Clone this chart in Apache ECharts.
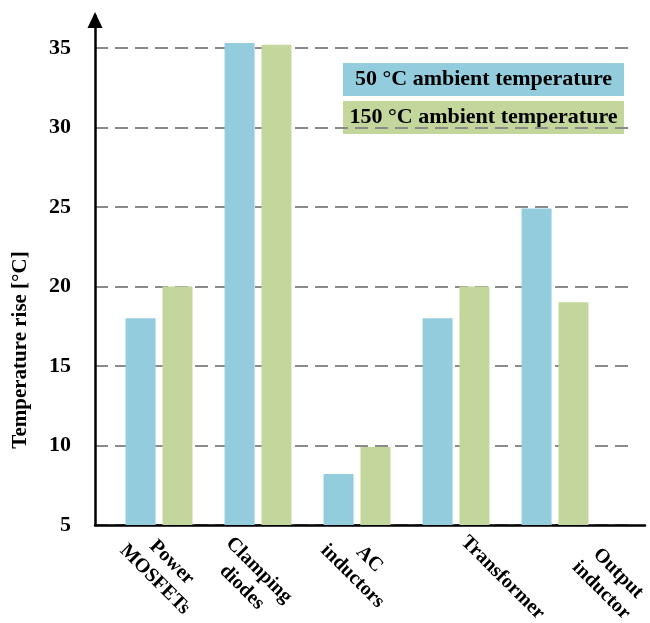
<!DOCTYPE html>
<html>
<head>
<meta charset="utf-8">
<title>Temperature rise of converter components</title>
<script src="https://cdn.jsdelivr.net/npm/echarts@6/dist/echarts.min.js"></script>
<style>
  html, body { margin: 0; padding: 0; background: #fff; }
  #chart { width: 650px; height: 623px; }
</style>
</head>
<body>
<div id="chart"></div>
<script>
// Components under test
const categories = ['Power\nMOSFETs', 'Clamping\ndiodes', 'AC\ninductors', 'Transformer', 'Output\ninductor'];
// Temperature rise [°C] for each ambient temperature
const seriesNames = ['50 \u00B0C ambient temperature', '150 \u00B0C ambient temperature'];
const rise50 = [18, 35.3, 8.2, 18, 24.9];
const rise150 = [20, 35.2, 9.9, 20, 19];
// Value-axis tick labels
const yTicks = [5, 10, 15, 20, 25, 30, 35];

// Category-label placement tweaks: horizontal nudge (category units) and extra drop (px)
const labelNudge = [-0.29, -0.38, -0.26, 0.08, 0.29];
const labelDrop = [1, 10, 1, 0, 17];

const FONT = 'Liberation Serif';
const BLUE = '#93CDDD';
const GREEN = '#C3D69B';
const BAND_PX = 99;   // pixel width of one category step on the bar axis

const chart = echarts.init(document.getElementById('chart'), null, { renderer: 'canvas' });

const toPairs = vals => vals.map((v, i) => [i, v]);

// A drop of s px for a -45° label = move right by s px and push the text
// block down by a spacer line of 2*sqrt(2)*s px in the rotated frame.
const labelPos = categories.map((c, i) => i + labelNudge[i] + labelDrop[i] / BAND_PX);
const labelRich = {
  c: { fontFamily: FONT, fontWeight: 'bold', fontSize: 20, color: '#000', align: 'center', lineHeight: 24 }
};
categories.forEach((c, i) => {
  labelRich['sp' + i] = { fontSize: 1, lineHeight: Math.round(labelDrop[i] * 2.83), height: Math.round(labelDrop[i] * 2.83) };
});

const hidden = {
  axisLine: { show: false }, axisTick: { show: false },
  axisLabel: { show: false }, splitLine: { show: false }
};

const option = {
  backgroundColor: '#fff',
  animation: false,
  grid: [
    // dashed reference lines and the value labels
    { left: 95, right: 21, top: 48, bottom: 98, outerBoundsMode: 'none', containLabel: false },
    // bars, black axis lines with the arrow, category labels
    { left: 95, right: 5, top: 16, bottom: 98, outerBoundsMode: 'none', containLabel: false }
  ],
  xAxis: [
    Object.assign({ type: 'value', gridIndex: 0, min: 0, max: 1 }, hidden),
    {
      type: 'value', gridIndex: 1,
      min: -0.6465, max: 4.909,
      axisLine: { show: true, onZero: false, lineStyle: { color: '#000', width: 2.5 } },
      axisTick: { show: false },
      splitLine: { show: false },
      axisLabel: {
        customValues: labelPos,
        rotate: -45,
        margin: 14,
        formatter: v => {
          const i = labelPos.findIndex(p => Math.abs(p - v) < 1e-6);
          if (i < 0) return '';
          const lines = categories[i].split('\n').map(s => '{c|' + s + '}');
          if (labelDrop[i] > 1) lines.unshift('{sp' + i + '|\u00a0}');
          return lines.join('\n');
        },
        rich: labelRich
      }
    }
  ],
  yAxis: [
    {
      type: 'value', gridIndex: 0,
      min: yTicks[0], max: yTicks[yTicks.length - 1], interval: 5,
      axisLine: { show: false },
      axisTick: { show: false },
      axisLabel: {
        margin: 24,
        fontFamily: FONT, fontWeight: 'bold', fontSize: 22, color: '#000'
      },
      splitLine: {
        show: true,
        lineStyle: { color: '#8a8a8a', width: 2, type: [13, 7] }
      }
    },
    {
      type: 'value', gridIndex: 1, min: 5, max: 37,
      axisLine: {
        show: true, onZero: false,
        lineStyle: { color: '#000', width: 2.5 },
        symbol: ['none', 'triangle'],
        symbolSize: [15, 16],
        symbolOffset: [0, -4]
      },
      axisTick: { show: false }, axisLabel: { show: false }, splitLine: { show: false }
    }
  ],
  legend: {
    orient: 'vertical',
    left: 338, top: 63,
    padding: 0,
    itemWidth: 0, itemHeight: 0, itemGap: 5,
    icon: 'rect',
    z: -1,
    selectedMode: false,
    data: seriesNames,
    formatter: name => (name === seriesNames[0] ? '{b|' : '{g|') + name + '}',
    textStyle: {
      rich: {
        b: { backgroundColor: BLUE, width: 281, height: 33, lineHeight: 33, align: 'center',
             fontFamily: FONT, fontWeight: 'bold', fontSize: 22, color: '#000' },
        g: { backgroundColor: GREEN, width: 281, height: 33, lineHeight: 33, align: 'center',
             fontFamily: FONT, fontWeight: 'bold', fontSize: 22, color: '#000' }
      }
    }
  },
  graphic: [
    {
      type: 'text',
      x: 21, y: 350,
      rotation: Math.PI / 2,
      style: {
        text: 'Temperature rise [\u00B0C]',
        fontFamily: FONT, fontWeight: 'bold', fontSize: 21, fill: '#000',
        align: 'center', verticalAlign: 'middle'
      }
    }
  ],
  series: [
    {
      name: seriesNames[0], type: 'bar', xAxisIndex: 1, yAxisIndex: 1,
      barWidth: 30, barGap: '23%',
      itemStyle: { color: BLUE },
      data: toPairs(rise50)
    },
    {
      name: seriesNames[1], type: 'bar', xAxisIndex: 1, yAxisIndex: 1,
      barWidth: 30, barGap: '23%',
      itemStyle: { color: GREEN },
      data: toPairs(rise150)
    }
  ]
};

chart.setOption(option);
</script>
</body>
</html>
